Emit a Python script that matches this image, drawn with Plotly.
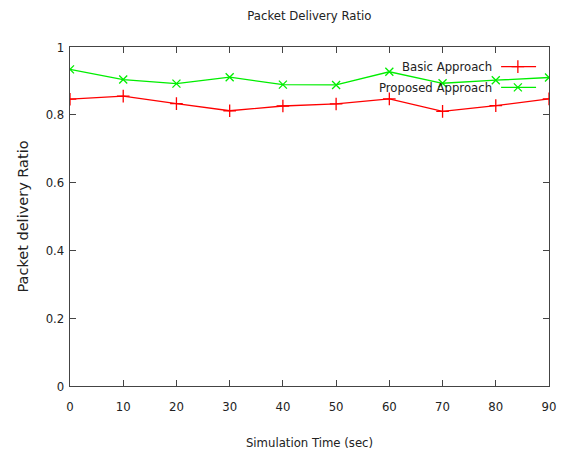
import plotly.graph_objects as go

sim_time = [0, 10, 20, 30, 40, 50, 60, 70, 80, 90]
basic = [0.846, 0.855, 0.833, 0.812, 0.826, 0.832, 0.847, 0.810, 0.827, 0.847]
proposed = [0.934, 0.904, 0.892, 0.911, 0.889, 0.888, 0.927, 0.893, 0.902, 0.910]
series_names = ["Basic Approach", "Proposed Approach"]
x_ticks = [0, 10, 20, 30, 40, 50, 60, 70, 80, 90]
y_ticks = [0, 0.2, 0.4, 0.6, 0.8, 1]
y_tick_labels = ["0", "0.2", "0.4", "0.6", "0.8", "1"]

RED = "#ff0000"
GREEN = "#00ee00"
COND = "DejaVu Sans Condensed, Liberation Sans Narrow, DejaVu Sans, sans-serif"
AXCOL = "#444444"
TXT = "#222222"

fig = go.Figure()
fig.add_trace(go.Scatter(x=sim_time, y=basic, mode="lines+markers", name=series_names[0],
                         line=dict(color=RED, width=1.3),
                         marker=dict(symbol="cross-thin", size=9, line=dict(color=RED, width=1.3)),
                         showlegend=False))
fig.add_trace(go.Scatter(x=sim_time, y=proposed, mode="lines+markers", name=series_names[1],
                         line=dict(color=GREEN, width=1.3),
                         marker=dict(symbol="x-thin", size=8, line=dict(color=GREEN, width=1.3)),
                         showlegend=False))

# manual legend (text left of sample, gnuplot style)
leg_y = [0.942, 0.881]
leg_sym = ["cross-thin", "x-thin"]
leg_col = [RED, GREEN]
for i in range(2):
    fig.add_trace(go.Scatter(x=[0.900, 0.973], y=[leg_y[i], leg_y[i]], mode="lines",
                             line=dict(color=leg_col[i], width=1.3), xaxis="x2", yaxis="y2",
                             showlegend=False, hoverinfo="skip"))
    fig.add_trace(go.Scatter(x=[0.935], y=[leg_y[i]], mode="markers",
                             marker=dict(symbol=leg_sym[i], size=9 if i == 0 else 8,
                                         line=dict(color=leg_col[i], width=1.3)),
                             xaxis="x2", yaxis="y2", showlegend=False, hoverinfo="skip"))
    fig.add_annotation(x=0.886, y=leg_y[i], xref="paper", yref="paper", text=series_names[i],
                       showarrow=False, xanchor="right", yanchor="middle",
                       font=dict(family=COND, size=13, color=TXT))

fig.update_layout(
    width=561, height=450,
    margin=dict(l=70, r=12, t=47, b=64),
    paper_bgcolor="white", plot_bgcolor="white",
    title=dict(text="Packet Delivery Ratio", x=0.5515, xanchor="center", y=0.966, yanchor="middle",
               font=dict(family=COND, size=13, color=TXT)),
    xaxis=dict(range=[0, 90], tickvals=x_ticks, ticks="inside", ticklen=6, tickcolor=AXCOL,
               showline=True, linecolor=AXCOL, linewidth=1.3, mirror="ticks", showgrid=False,
               zeroline=False, automargin=False, ticklabelstandoff=8,
               tickfont=dict(family=COND, size=13, color=TXT),
               title=dict(text="Simulation Time (sec)", standoff=29,
                          font=dict(family=COND, size=13, color=TXT))),
    yaxis=dict(range=[0, 1], tickvals=y_ticks, ticktext=y_tick_labels, ticks="inside", ticklen=6,
               tickcolor=AXCOL, showline=True, linecolor=AXCOL, linewidth=1.3, mirror="ticks",
               showgrid=False, zeroline=False, automargin=False, ticklabelstandoff=2,
               tickfont=dict(family=COND, size=13, color=TXT),
               title=dict(text="Packet delivery Ratio", standoff=13,
                          font=dict(family="DejaVu Sans, sans-serif", size=14.5, color=TXT))),
    xaxis2=dict(range=[0, 1], overlaying="x", visible=False),
    yaxis2=dict(range=[0, 1], overlaying="y", visible=False),
)

fig.write_html("out.html")
